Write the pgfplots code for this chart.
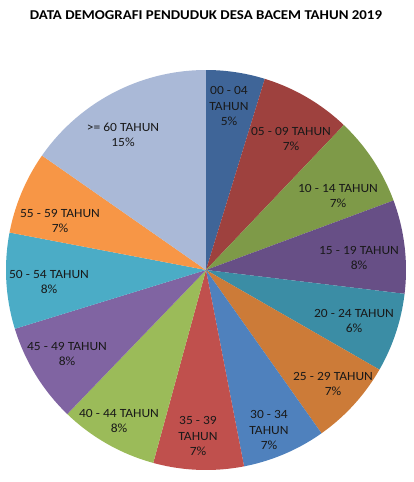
\documentclass[border=0pt]{standalone}
\usepackage{pgfplots}
\pgfplotsset{compat=1.18}
\usepackage{pgfplotstable}
\usepackage{fontspec}
\setmainfont{Carlito}
\definecolor{pie0}{HTML}{3F6598}
\definecolor{pie1}{HTML}{9E413E}
\definecolor{pie2}{HTML}{7E9A48}
\definecolor{pie3}{HTML}{674F86}
\definecolor{pie4}{HTML}{3B8DA5}
\definecolor{pie5}{HTML}{CC7B38}
\definecolor{pie6}{HTML}{4F81BD}
\definecolor{pie7}{HTML}{C0504D}
\definecolor{pie8}{HTML}{9BBB59}
\definecolor{pie9}{HTML}{8064A2}
\definecolor{pie10}{HTML}{4BACC6}
\definecolor{pie11}{HTML}{F79646}
\definecolor{pie12}{HTML}{AAB9D7}
% value = share of population (%), pct = printed rounded label, lx/ly = label position
\pgfplotstableread[col sep=comma]{
name,value,pct,split,lx,ly
00 - 04,4.75,5,1,0.115,0.82
05 - 09,7.35,7,0,0.425,0.655
10 - 14,7.25,7,0,0.66,0.37
15 - 19,7.55,8,0,0.765,0.06
20 - 24,6.40,6,0,0.74,-0.255
25 - 29,6.90,7,0,0.635,-0.57
30 - 34,6.75,7,1,0.315,-0.80
35 - 39,7.30,7,1,-0.04,-0.83
40 - 44,7.95,8,0,-0.435,-0.755
45 - 49,8.05,8,0,-0.695,-0.42
50 - 54,7.75,8,0,-0.785,-0.06
55 - 59,6.70,7,0,-0.73,0.245
>= 60,15.30,15,0,-0.415,0.675
}\piedata
\pgfplotstablegetrowsof{\piedata}
\pgfmathtruncatemacro\N{\pgfplotsretval-1}
\begin{document}
\begin{tikzpicture}
\useasboundingbox (-206pt,-212pt) rectangle (207pt,270pt);
\begin{axis}[
  at={(0pt,0pt)}, anchor=center,
  scale only axis, width=400pt, height=400pt,
  xmin=-1, xmax=1, ymin=-1, ymax=1,
  hide axis, clip=false,
]
\def\cum{0}
\pgfplotsforeachungrouped \i in {0,...,\N}{%
  \pgfplotstablegetelem{\i}{value}\of\piedata \let\v\pgfplotsretval
  \pgfplotstablegetelem{\i}{name}\of\piedata \let\nm\pgfplotsretval
  \pgfplotstablegetelem{\i}{pct}\of\piedata \let\pc\pgfplotsretval
  \pgfplotstablegetelem{\i}{split}\of\piedata \let\sp\pgfplotsretval
  \pgfplotstablegetelem{\i}{lx}\of\piedata \let\lx\pgfplotsretval
  \pgfplotstablegetelem{\i}{ly}\of\piedata \let\ly\pgfplotsretval
  \pgfmathsetmacro\a{90-\cum*3.6}%
  \pgfmathsetmacro\b{90-(\cum+\v)*3.6}%
  \ifnum\sp=1
    \edef\lab{\nm\noexpand\\TAHUN\noexpand\\\pc\noexpand\%}%
  \else
    \edef\lab{\nm\space TAHUN\noexpand\\\pc\noexpand\%}%
  \fi
  \edef\temp{\noexpand\addplot[fill=pie\i, draw=none, domain=\b:\a, samples=80, variable=\noexpand\t] ({cos(\noexpand\t)},{sin(\noexpand\t)}) -- (axis cs:0,0) -- cycle;}%
  \temp
  \edef\temp{\noexpand\node[align=center, xscale=1.08, font=\noexpand\fontsize{12.5}{15.5}\noexpand\selectfont, text=black!90] at (axis cs:\lx,\ly) {\lab};}%
  \temp
  \pgfmathsetmacro\cum{\cum+\v}%
}
\node[anchor=base, xscale=1.10, font=\fontsize{13.5}{16}\selectfont\bfseries] at (axis description cs:0.5,1.125) {DATA DEMOGRAFI PENDUDUK DESA BACEM TAHUN 2019};
\end{axis}
\end{tikzpicture}
\end{document}
